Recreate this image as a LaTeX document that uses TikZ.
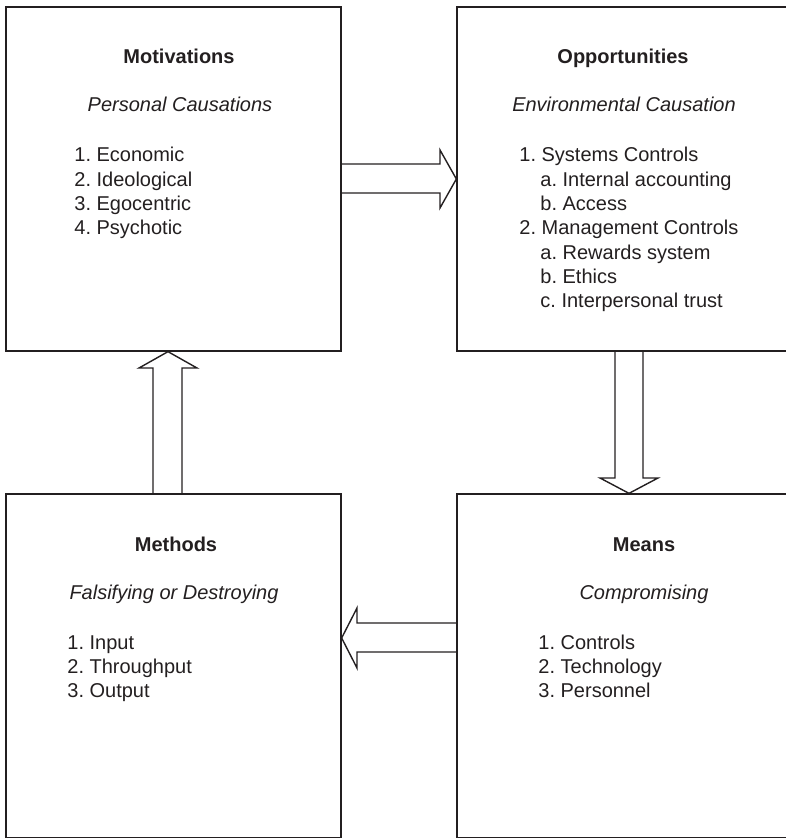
\documentclass[tikz,border=0pt]{standalone}
\usepackage{fontspec}
\setmainfont{Liberation Sans}
\frenchspacing
\definecolor{ink}{HTML}{231F20}
\tikzset{
	box/.style={draw=ink, line width=0.65pt, minimum width=167.5pt,
		minimum height=172pt, inner sep=0pt},
	blockarrow/.style={draw=ink, line width=0.7pt, line join=miter},
	title/.style={anchor=base, inner sep=0pt,
		font=\fontsize{10}{12}\selectfont\bfseries, text=ink},
	subtitle/.style={anchor=base, inner sep=0pt,
		font=\fontsize{10}{12}\selectfont\itshape, text=ink},
	item/.style={anchor=base west, inner sep=0pt,
		font=\fontsize{10}{12}\selectfont, text=ink}
}
\begin{document}
\begin{tikzpicture}[x=0.5pt, y=-0.5pt]
	\useasboundingbox (0, 0) rectangle (785, 838);
	% Kaesten
	\node[box] (mot) at (173.5, 179) {};
	\node[box] (opp) at (624.5, 179) {};
	\node[box] (meth) at (173.5, 666) {};
	\node[box] (means) at (624.5, 666) {};

	% Motivations
	\node[title] (mot-title) at (179, 64) {Motivations};
	\node[subtitle] (mot-sub) at (180, 112) {Personal Causations};
	\foreach \txt [count=\i] in {1. Economic, 2. Ideological, 3. Egocentric,
		4. Psychotic}
		\node[item] (mot-\i) at (74, {137.7 + 24.3*\i}) {\txt};

	% Opportunities
	\node[title] (opp-title) at (623, 64) {Opportunities};
	\node[subtitle] (opp-sub) at (624, 112) {Environmental Causation};
	\foreach \x/\txt [count=\i] in {519/1. Systems Controls,
		540/a. Internal accounting, 540/b. Access, 519/2. Management Controls,
		540/a. Rewards system, 540/b. Ethics, 540/c. Interpersonal trust}
		\node[item] (opp-\i) at (\x, {137.7 + 24.3*\i}) {\txt};

	% Methods
	\node[title] (meth-title) at (176, 551) {Methods};
	\node[subtitle] (meth-sub) at (174, 599) {Falsifying or Destroying};
	\foreach \txt [count=\i] in {1. Input, 2. Throughput, 3. Output}
		\node[item] (meth-\i) at (67, {624.7 + 24.3*\i}) {\txt};

	% Means
	\node[title] (means-title) at (644, 551) {Means};
	\node[subtitle] (means-sub) at (644, 599) {Compromising};
	\foreach \txt [count=\i] in {1. Controls, 2. Technology, 3. Personnel}
		\node[item] (means-\i) at (538, {624.7 + 24.3*\i}) {\txt};

	% Blockpfeile
	\draw[blockarrow] (mot.east |- 0, 164) -- (440, 164) -- (440, 150)
		-- (opp.west |- 0, 179) -- (440, 208) -- (440, 193)
		-- (mot.east |- 0, 193);
	\draw[blockarrow] (opp.south -| 615, 0) -- (615, 478) -- (600, 478)
		-- (means.north -| 629, 0) -- (658, 478) -- (643, 478)
		-- (opp.south -| 643, 0);
	\draw[blockarrow] (means.west |- 0, 623) -- (357, 623) -- (357, 608)
		-- (meth.east |- 0, 638) -- (357, 668) -- (357, 652)
		-- (means.west |- 0, 652);
	\draw[blockarrow] (meth.north -| 153, 0) -- (153, 368) -- (139, 368)
		-- (mot.south -| 168, 0) -- (197, 368) -- (182, 368)
		-- (meth.north -| 182, 0);
\end{tikzpicture}
\end{document}
